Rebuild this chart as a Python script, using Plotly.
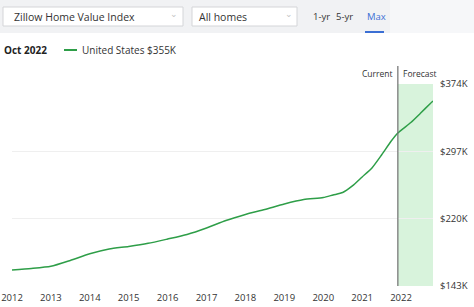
import plotly.graph_objects as go

# ---- data ----
dates = ["2012-10-01", "2013-04-01", "2013-10-01", "2014-04-01", "2014-10-01",
         "2015-04-01", "2015-10-01", "2016-04-01", "2016-10-01", "2017-04-01",
         "2017-10-01", "2018-04-01", "2018-10-01", "2019-04-01", "2019-10-01",
         "2020-04-01", "2020-10-01", "2021-01-01", "2021-04-01", "2021-07-01",
         "2021-10-01", "2022-01-01", "2022-04-01", "2022-07-01", "2022-09-01",
         "2023-01-01", "2023-04-01", "2023-07-01", "2023-07-28"]
values_k = [161.3, 163.0, 165.5, 172.2, 179.8,
            185.3, 188.2, 191.8, 196.7, 201.9,
            209.3, 217.9, 224.8, 230.5, 236.8,
            241.9, 244.2, 247.1, 249.9, 257.4,
            267.7, 278.0, 292.8, 308.8, 318.0,
            330.0, 340.5, 351.5, 354.6]
current_date = "2022-09-01"
forecast_end = "2023-07-28"
x_start = "2012-10-01"
tick_dates = ["2012-10-01", "2013-10-01", "2014-10-01", "2015-10-01", "2016-10-01",
              "2017-10-01", "2018-10-01", "2019-10-01", "2020-10-01", "2021-10-01",
              "2022-10-01"]
tick_years = ["2012", "2013", "2014", "2015", "2016", "2017", "2018", "2019",
              "2020", "2021", "2022"]
y_ticks = [143, 220, 297, 374]
y_tick_text = ["$143K", "$220K", "$297K", "$374K"]

W, H = 474, 307
L, R, T, B = 12, 41, 84, 21
PW, PH = W - L - R, H - T - B

def px(x):
    return (x - L) / PW

def py(y):
    return (H - B - y) / PH

FONT = "Open Sans"
GREEN = "#2e9e48"

fig = go.Figure()
fig.add_trace(go.Scatter(
    x=dates, y=values_k, mode="lines",
    line=dict(color=GREEN, width=1.5, shape="spline", smoothing=0.6),
    hoverinfo="skip", showlegend=False, cliponaxis=False))

shapes = []
# forecast band
shapes.append(dict(type="rect", xref="x", yref="paper", x0=current_date, x1=forecast_end,
                   y0=0, y1=1, fillcolor="#d8f3dc", line=dict(width=0), layer="below"))
# current line
shapes.append(dict(type="line", xref="x", yref="paper", x0=current_date, x1=current_date,
                   y0=0, y1=py(66), line=dict(color="#6f6f6f", width=1.2)))
# top control bar
shapes.append(dict(type="rect", xref="paper", yref="paper", x0=px(0), x1=px(390),
                   y0=py(33), y1=py(0), fillcolor="#f1f2f4", line=dict(width=0)))
shapes.append(dict(type="rect", xref="paper", yref="paper", x0=px(390), x1=px(474),
                   y0=py(33), y1=py(0), fillcolor="#f6f7f9", line=dict(width=0)))
for x0, x1 in [(3, 183), (192, 297)]:
    shapes.append(dict(type="rect", xref="paper", yref="paper", x0=px(x0), x1=px(x1),
                       y0=py(26), y1=py(7), fillcolor="white",
                       line=dict(color="#d4d5d8", width=1)))
# Max underline
shapes.append(dict(type="line", xref="paper", yref="paper", x0=px(365), x1=px(384),
                   y0=py(32), y1=py(32), line=dict(color="#3b6fd4", width=2)))
# legend swatch
shapes.append(dict(type="line", xref="paper", yref="paper", x0=px(64), x1=px(77),
                   y0=py(50), y1=py(50), line=dict(color=GREEN, width=2)))

def ann(text, x, y, size=10, color="#2a2a2a", anchor="left", bold=False, family=FONT):
    return dict(text=("<b>%s</b>" % text) if bold else text, xref="paper", yref="paper",
                x=px(x), y=py(y), xanchor=anchor, yanchor="middle", showarrow=False,
                font=dict(family=family, size=size, color=color))

annotations = [
    ann("Zillow Home Value Index", 12, 17, size=10.5, color="#333"),
    ann("All homes", 197, 17, size=10.5, color="#333"),
    ann("⌄", 174, 14, size=9, color="#c4c4c4", anchor="center"),
    ann("⌄", 289, 14, size=9, color="#c4c4c4", anchor="center"),
    ann("1-yr", 311, 17, size=9.5, color="#333"),
    ann("5-yr", 334, 17, size=9.5, color="#333"),
    ann("Max", 365, 17, size=9.5, color="#3b6fd4"),
    ann("Oct 2022", 2, 50, size=10, color="#222", bold=True),
    ann("United States $355K", 80, 50, size=10, color="#333"),
    ann("Current", 395, 74, size=8.5, color="#333", anchor="right"),
    ann("Forecast", 401, 74, size=8.5, color="#333"),
]

fig.update_layout(
    width=W, height=H, margin=dict(l=L, r=R, t=T, b=B, autoexpand=False),
    paper_bgcolor="white", plot_bgcolor="white",
    shapes=shapes, annotations=annotations,
    xaxis=dict(type="date", range=[x_start, forecast_end], tickmode="array",
               tickvals=tick_dates, ticktext=tick_years, showgrid=False, zeroline=False,
               showline=False, ticks="", automargin=False, ticklabelstandoff=4,
               tickfont=dict(family=FONT, size=9.5, color="#333")),
    yaxis=dict(range=[143, 374], side="right", tickmode="array", tickvals=y_ticks,
               ticktext=y_tick_text, showgrid=True, gridcolor="#efefef", gridwidth=1,
               zeroline=False, showline=False, ticks="", ticklabelstandoff=6,
               automargin=False, tickfont=dict(family=FONT, size=9.5, color="#333")),
)

fig.write_html("out.html")
